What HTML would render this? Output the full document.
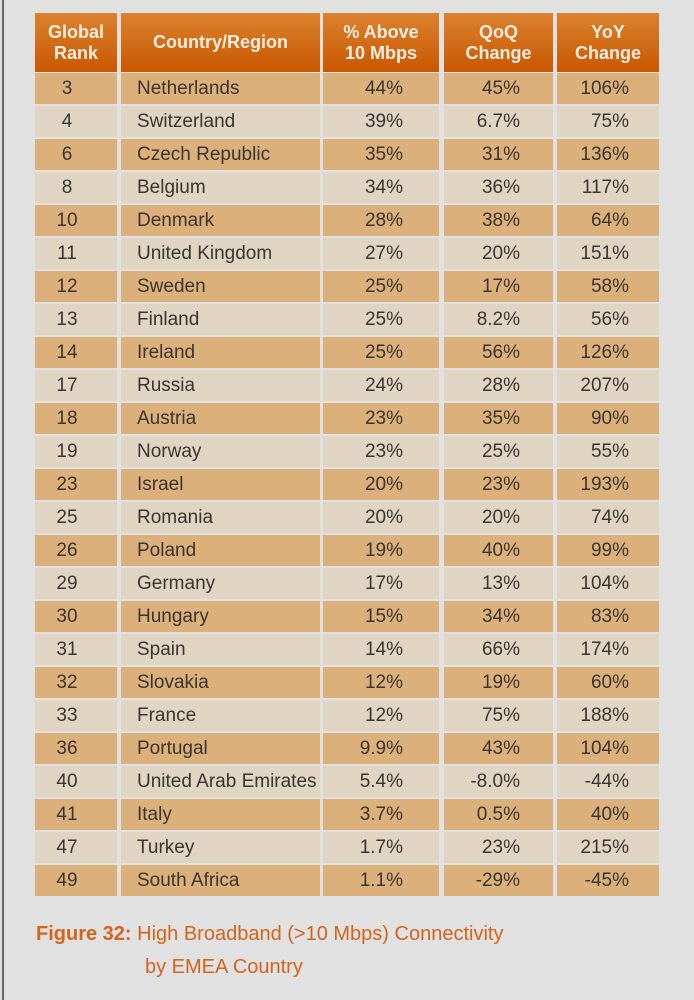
<!DOCTYPE html>
<html><head><meta charset="utf-8"><style>
body{margin:0;width:694px;height:1000px;background:#e1e1e1;position:relative;overflow:hidden;font-family:"Liberation Sans",sans-serif}
#edge{position:absolute;left:2px;top:0;width:2px;height:1000px;background:#6a6a6a}
.c{position:absolute;box-sizing:border-box;display:flex;align-items:center;color:#3a3530;font-size:19px;transform-origin:left center;white-space:nowrap}
.h{background:linear-gradient(#db822f,#c95700);color:#fbeee0;font-weight:bold;font-size:18px;line-height:21px;justify-content:center;text-align:center}
.cap{position:absolute;color:#d2641c;font-size:20px;white-space:nowrap}
</style></head><body>
<div id="edge"></div>
<div id="tbl"></div>
<div class="cap" style="left:36px;top:923px"><b>Figure 32:</b> High Broadband (&gt;10 Mbps) Connectivity</div>
<div class="cap" style="left:145px;top:956px">by EMEA Country</div>
<script>
const ranks=[3,4,6,8,10,11,12,13,14,17,18,19,23,25,26,29,30,31,32,33,36,40,41,47,49];
const countries=["Netherlands","Switzerland","Czech Republic","Belgium","Denmark","United Kingdom","Sweden","Finland","Ireland","Russia","Austria","Norway","Israel","Romania","Poland","Germany","Hungary","Spain","Slovakia","France","Portugal","United Arab Emirates","Italy","Turkey","South Africa"];
const above=["44%","39%","35%","34%","28%","27%","25%","25%","25%","24%","23%","23%","20%","20%","19%","17%","15%","14%","12%","12%","9.9%","5.4%","3.7%","1.7%","1.1%"];
const qoq=["45%","6.7%","31%","36%","38%","20%","17%","8.2%","56%","28%","35%","25%","23%","20%","40%","13%","34%","66%","19%","75%","43%","-8.0%","0.5%","23%","-29%"];
const yoy=["106%","75%","136%","117%","64%","151%","58%","56%","126%","207%","90%","55%","193%","74%","99%","104%","83%","174%","60%","188%","104%","-44%","40%","215%","-45%"];
const headers=["Global<br>Rank","Country/Region","% Above<br>10 Mbps","QoQ<br>Change","YoY<br>Change"];
const cols=[[35,82],[121,199],[323,116],[444,109],[557,102]];
const tbl=document.getElementById('tbl');
function cell(x,y,w,h,html,cls,style){const d=document.createElement('div');d.className='c '+cls;d.style.cssText=`left:${x}px;top:${y}px;width:${w}px;height:${h}px;`+style;d.innerHTML=html;tbl.appendChild(d);return d;}
headers.forEach((t,i)=>{const d=cell(cols[i][0],13,cols[i][1],59,t,'h','');

});
const rowH=33;
ranks.forEach((r,i)=>{const y=73+i*rowH;const bg=i%2?'#e0d4c2':'#dcb07a';
const vals=[r,countries[i],above[i],qoq[i],yoy[i]];
const al=['justify-content:center;padding-right:18px','justify-content:flex-start;padding-left:16px','justify-content:flex-end;padding-right:36px','justify-content:flex-end;padding-right:33px','justify-content:flex-end;padding-right:30px'];
vals.forEach((v,j)=>{const d=cell(cols[j][0],y,cols[j][1],rowH-2,v,'',`background:${bg};`+al[j]);

});});
</script>
</body></html>
